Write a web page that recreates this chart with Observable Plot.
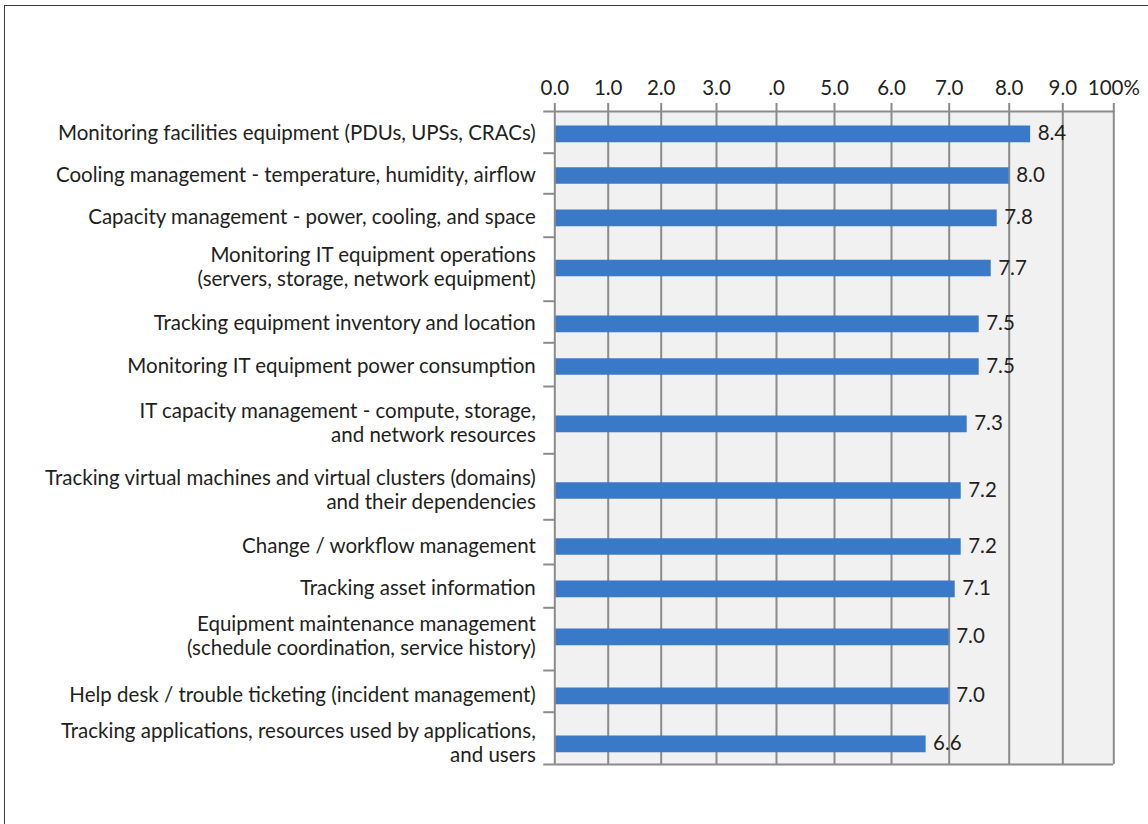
<!DOCTYPE html>
<html>
<head>
<meta charset="utf-8">
<script src="https://cdn.jsdelivr.net/npm/d3@7"></script>
<script src="https://cdn.jsdelivr.net/npm/@observablehq/plot@0.6"></script>
<style>
  html, body { margin: 0; padding: 0; background: #fff; overflow: hidden; }
  #wrap { position: relative; width: 1148px; height: 824px; }
  #border { position: absolute; left: 4px; top: 5px; width: 1400px; height: 1000px;
            border: 1.5px solid #3c3c3c; box-sizing: border-box; }
  #chart { position: absolute; left: 0; top: 0; }
</style>
</head>
<body>
<div id="wrap">
  <div id="border"></div>
  <div id="chart"></div>
</div>
<script>
// Survey items, top to bottom
const categories = [
  "Monitoring facilities equipment (PDUs, UPSs, CRACs)",
  "Cooling management - temperature, humidity, airflow",
  "Capacity management - power, cooling, and space",
  "Monitoring IT equipment operations\n(servers, storage, network equipment)",
  "Tracking equipment inventory and location",
  "Monitoring IT equipment power consumption",
  "IT capacity management - compute, storage,\nand network resources",
  "Tracking virtual machines and virtual clusters (domains)\nand their dependencies",
  "Change / workflow management",
  "Tracking asset information",
  "Equipment maintenance management\n(schedule coordination, service history)",
  "Help desk / trouble ticketing (incident management)",
  "Tracking applications, resources used by applications,\nand users"
];

// Average importance score per item
const scores = [8.4, 8.0, 7.8, 7.7, 7.5, 7.5, 7.3, 7.2, 7.2, 7.1, 7.0, 7.0, 6.6];

// Axis tick values and their printed labels
const tickValues = [0, 1, 2, 3, 4, 5, 6, 7, 8, 9, 10];
const tickLabels = ["0.0", "1.0", "2.0", "3.0", ".0", "5.0", "6.0", "7.0", "8.0", "9.0", "100%"];

// Layout: pixel stops of the (hand-spaced) axis grid and row bands
const xStops = [554.3, 607.7, 660.7, 716, 776, 834, 891, 948.7, 1008.7, 1062.3, 1113.3];
const rowEdges = [111, 152.7, 193.3, 236.7, 300.7, 342.3, 386, 453.3, 519.3, 564, 607.3, 670, 711.7, 764];
const rowCenters = [133.3, 175, 217.3, 267.5, 323.3, 366, 423.3, 490, 546, 588.3, 636.3, 695.3, 743.3];

const rows = categories.map((name, i) => ({name, score: scores[i], pos: i + 0.5}));

// piecewise y scale: band edges at integers, bar centres at half steps
const yDomain = [], yRange = [];
for (let i = 0; i < rowEdges.length; i++) {
  yDomain.push(i); yRange.push(rowEdges[i]);
  if (i < rowCenters.length) { yDomain.push(i + 0.5); yRange.push(rowCenters[i]); }
}

const W = 1148, H = 824;
const gridColor = "#8b8b8b";
const textColor = "#231f20";
const font = "Lato, 'Noto Sans', sans-serif";
const fs = 20.5;

const chart = Plot.plot({
  width: W,
  height: H,
  marginLeft: xStops[0],
  marginRight: W - xStops[xStops.length - 1],
  marginTop: rowEdges[0],
  marginBottom: H - rowEdges[rowEdges.length - 1],
  style: {fontFamily: font, fontSize: fs + "px", color: textColor, background: "transparent", overflow: "visible"},
  x: {type: "linear", domain: tickValues, range: xStops},
  y: {type: "linear", domain: yDomain, range: yRange, axis: null},
  marks: [
    // panel background
    Plot.rect([0], {x1: 0, x2: 10, y1: 0, y2: categories.length, fill: "#f1f1f1"}),
    // vertical grid
    Plot.ruleX(tickValues.slice(1), {y1: 0, y2: categories.length, stroke: gridColor, strokeWidth: 2}),
    // top and bottom edges of the panel
    Plot.ruleY([0, categories.length], {x1: 0, x2: 10, stroke: gridColor, strokeWidth: 2}),
    // bars
    Plot.ruleY(rows, {y: "pos", x1: 0, x2: "score", stroke: "#3a78c8", strokeWidth: 16.7}),
    // category axis line
    Plot.ruleX([0], {y1: 0, y2: categories.length, stroke: gridColor, strokeWidth: 2}),
    // category band ticks
    Plot.axisY({anchor: "left", ticks: d3.range(categories.length + 1), tickSize: 11,
                tickFormat: () => "", label: null, stroke: gridColor, strokeWidth: 2}),
    // value axis on top
    Plot.axisX({anchor: "top", ticks: tickValues, tickSize: 9, tickPadding: 8,
                tickFormat: (d, i) => tickLabels[i], stroke: gridColor, strokeWidth: 2,
                fill: textColor, fontSize: fs, label: null}),
    // category labels
    Plot.text(rows, {x: 0, y: "pos", text: "name", textAnchor: "end", dx: -19, dy: -1.5,
                     lineHeight: 1.17, fill: textColor, fontSize: fs}),
    // value labels
    Plot.text(rows, {x: "score", y: "pos", text: d => d.score.toFixed(1), textAnchor: "start",
                     dx: 7, fill: textColor, fontSize: fs})
  ]
});

document.getElementById("chart").appendChild(chart);
</script>
</body>
</html>
